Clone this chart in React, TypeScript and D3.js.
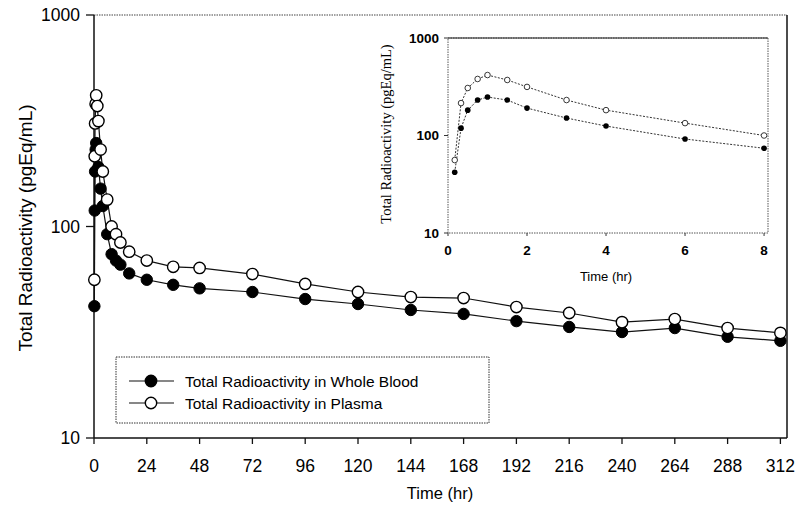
import React from "react";
import * as d3 from "d3";

const times = [0.17, 0.33, 0.5, 0.75, 1, 1.5, 2, 3, 4, 6, 8, 10, 12, 16, 24, 36, 48, 72, 96, 120, 144, 168, 192, 216, 240, 264, 288, 312];
const blood = [42, 119, 182, 231, 248, 231, 191, 151, 125, 92, 74, 69, 66, 60, 56, 53, 51, 49, 45.4, 43, 40.3, 38.6, 35.7, 33.5, 31.7, 33.1, 30.1, 28.8];
const plasma = [56, 215, 307, 380, 417, 371, 315, 231, 182, 134, 100, 92, 84, 76, 69, 64.5, 63.7, 59.6, 53.5, 49, 46.4, 45.9, 41.6, 39, 35.3, 36.5, 33.1, 31.4];
const xTicks = [0, 24, 48, 72, 96, 120, 144, 168, 192, 216, 240, 264, 288, 312];
const yTicks = [10, 100, 1000];
const insetXTicks = [0, 2, 4, 6, 8];
const legendLabels = ["Total Radioactivity in Whole Blood", "Total Radioactivity in Plasma"];

const FONT = "'Liberation Sans', Arial, sans-serif";

export default function App() {
  const x = d3.scaleLinear().domain([0, 315]).range([94, 787]);
  const y = d3.scaleLog().domain([10, 1000]).range([438, 15]);
  const ix = d3.scaleLinear().domain([0, 8.1]).range([448, 768]);
  const iy = d3.scaleLog().domain([10, 1000]).range([233, 38]);

  const pts = (vals: number[]) => times.map((t, i) => [t, vals[i]] as [number, number]);
  const mainLine = d3.line<[number, number]>().x((d) => x(d[0])).y((d) => y(d[1]));
  const insetPts = (vals: number[]) => pts(vals).filter((d) => d[0] <= 8);
  const insetLine = d3.line<[number, number]>().x((d) => ix(d[0])).y((d) => iy(d[1]));

  return (
    <svg width={796} height={505} style={{ position: "absolute", left: 0, top: 0, background: "#fff" }} fontFamily={FONT}>
      <rect x={0} y={0} width={796} height={505} fill="#fff" />
      {/* frame */}
      <line x1={x(0)} x2={787} y1={15} y2={15} stroke="#444" strokeWidth={1} strokeDasharray="1.5,1" />
      <line x1={787} x2={787} y1={15} y2={438} stroke="#111" strokeWidth={1.5} />
      <line x1={x(0)} x2={787} y1={438} y2={438} stroke="#111" strokeWidth={1.5} />
      <line x1={x(0)} x2={x(0)} y1={15} y2={438} stroke="#111" strokeWidth={1.5} />
      {/* y ticks */}
      {yTicks.map((v) => (
        <g key={"y" + v}>
          <line x1={x(0) - 8} x2={x(0)} y1={y(v)} y2={y(v)} stroke="#111" strokeWidth={1.3} />
          <text x={x(0) - 14} y={y(v)} dy="0.36em" textAnchor="end" fontSize={17.5}>{v}</text>
        </g>
      ))}
      {/* x ticks */}
      {xTicks.map((v) => (
        <g key={"x" + v}>
          <line x1={x(v)} x2={x(v)} y1={438} y2={444} stroke="#111" strokeWidth={1.3} />
          <text x={x(v)} y={472} textAnchor="middle" fontSize={17.5}>{v}</text>
        </g>
      ))}
      <text x={440} y={499} textAnchor="middle" fontSize={16.5}>Time (hr)</text>
      <text transform={`translate(32,228) rotate(-90)`} textAnchor="middle" fontSize={19}>Total Radioactivity (pgEq/mL)</text>

      {/* main series */}
      <path d={mainLine(pts(plasma)) || ""} fill="none" stroke="#111" strokeWidth={1.2} />
      <path d={mainLine(pts(blood)) || ""} fill="none" stroke="#111" strokeWidth={1.2} />
      {pts(blood).map((d, i) => (
        <circle key={"b" + i} cx={x(d[0])} cy={y(d[1])} r={5.7} fill="#000" stroke="#000" strokeWidth={1} />
      ))}
      {pts(plasma).map((d, i) => (
        <circle key={"p" + i} cx={x(d[0])} cy={y(d[1])} r={5.7} fill="#fff" stroke="#000" strokeWidth={1.4} />
      ))}

      {/* legend */}
      <rect x={116} y={357} width={373} height={66} fill="#fff" stroke="#333" strokeWidth={1} strokeDasharray="1.5,1" />
      {legendLabels.map((lab, i) => (
        <g key={lab}>
          <line x1={129} x2={174} y1={381 + i * 22} y2={381 + i * 22} stroke="#111" strokeWidth={1.2} />
          <circle cx={151} cy={381 + i * 22} r={5.7} fill={i === 0 ? "#000" : "#fff"} stroke="#000" strokeWidth={1.4} />
          <text x={185} y={381 + i * 22} dy="0.36em" fontSize={15.5}>{lab}</text>
        </g>
      ))}

      {/* inset */}
      <rect x={ix(0)} y={iy(1000)} width={768 - ix(0)} height={iy(10) - iy(1000)} fill="#fff" stroke="#555" strokeWidth={1} strokeDasharray="1.5,1" />
      <line x1={ix(0)} x2={768} y1={iy(1000)} y2={iy(1000)} stroke="#222" strokeWidth={1.2} />
      {yTicks.map((v) => (
        <g key={"iy" + v}>
          <line x1={ix(0) - 4} x2={ix(0)} y1={iy(v)} y2={iy(v)} stroke="#333" strokeWidth={1} />
          <text x={ix(0) - 9} y={iy(v)} dy="0.36em" textAnchor="end" fontSize={13.5} fontWeight="bold">{v}</text>
        </g>
      ))}
      {insetXTicks.map((v) => (
        <g key={"ix" + v}>
          <line x1={ix(v)} x2={ix(v)} y1={iy(10)} y2={iy(10) + 3} stroke="#333" strokeWidth={1} />
          <text x={ix(v)} y={255} textAnchor="middle" fontSize={13.5} fontWeight="bold">{v}</text>
        </g>
      ))}
      <text x={606} y={281} textAnchor="middle" fontSize={13}>Time (hr)</text>
      <text transform={`translate(391,134) rotate(-90)`} textAnchor="middle" fontSize={14.5} fontFamily="'Liberation Serif', 'Times New Roman', serif">Total Radioactivity (pgEq/mL)</text>
      <path d={insetLine(insetPts(plasma)) || ""} fill="none" stroke="#333" strokeWidth={1} strokeDasharray="2,1.5" />
      <path d={insetLine(insetPts(blood)) || ""} fill="none" stroke="#333" strokeWidth={1} strokeDasharray="2,1.5" />
      {insetPts(blood).map((d, i) => (
        <circle key={"ib" + i} cx={ix(d[0])} cy={iy(d[1])} r={2.8} fill="#000" />
      ))}
      {insetPts(plasma).map((d, i) => (
        <circle key={"ip" + i} cx={ix(d[0])} cy={iy(d[1])} r={2.8} fill="#fff" stroke="#222" strokeWidth={0.9} />
      ))}
    </svg>
  );
}
